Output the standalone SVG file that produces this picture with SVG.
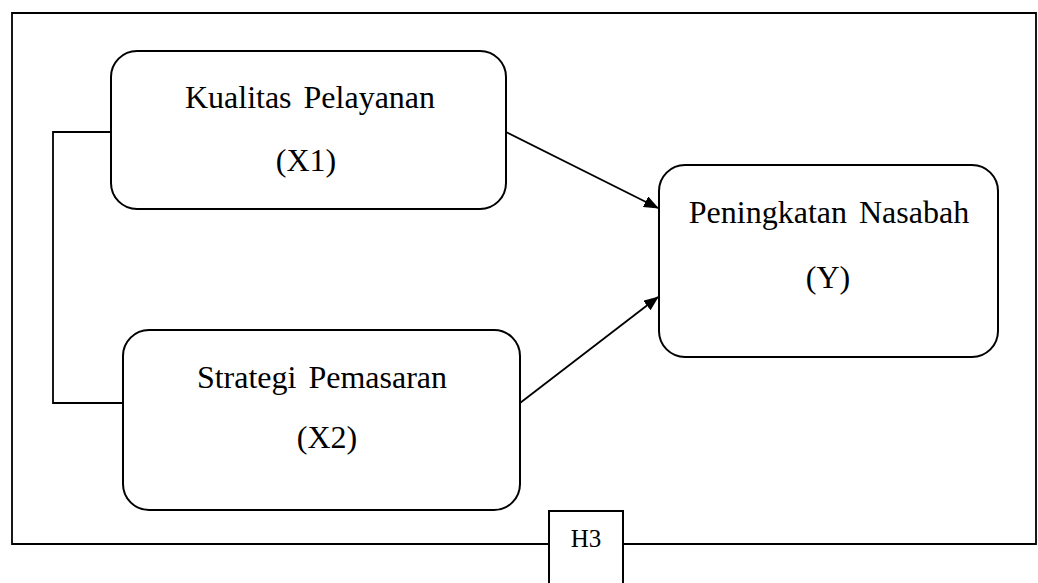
<svg xmlns="http://www.w3.org/2000/svg" width="1038" height="583" viewBox="0 0 1038 583">
<defs>
<marker id="ah" markerWidth="15" markerHeight="12" refX="14" refY="6" orient="auto" markerUnits="userSpaceOnUse">
<path d="M0,0 L15,6 L0,12 Z" fill="#000"/>
</marker>
<style>
.box{fill:#fff;stroke:#000;stroke-width:2}
.ln{fill:none;stroke:#000;stroke-width:1.8}
.t{font-family:"Liberation Serif","Times New Roman",serif;font-size:32px;word-spacing:4px;fill:#000;text-anchor:middle}
.h{font-family:"Liberation Serif","Times New Roman",serif;font-size:25px;fill:#000;text-anchor:middle}
</style>
</defs>
<rect x="0" y="0" width="1038" height="583" fill="#fff"/>
<g id="frame">
<polyline class="ln" points="549,544 12,544 12,13 1036,13 1036,544 623,544" stroke-width="2"/>
</g>
<g id="connectors">
<polyline class="ln" points="111,132 53,132 53,403 123,403"/>
<line class="ln" x1="506" y1="132" x2="658" y2="208" marker-end="url(#ah)"/>
<line class="ln" x1="520" y1="403" x2="658" y2="297" marker-end="url(#ah)"/>
</g>
<g id="x1">
<rect class="box" x="111" y="51" width="395" height="158" rx="26"/>
<text class="t" x="310" y="108">Kualitas Pelayanan</text>
<text class="t" x="306" y="171">(X1)</text>
</g>
<g id="x2">
<rect class="box" x="123" y="330" width="397" height="180" rx="26"/>
<text class="t" x="322" y="388">Strategi Pemasaran</text>
<text class="t" x="327" y="448">(X2)</text>
</g>
<g id="y">
<rect class="box" x="659" y="165" width="339" height="192" rx="26"/>
<text class="t" x="829" y="223">Peningkatan Nasabah</text>
<text class="t" x="828" y="288">(Y)</text>
</g>
<g id="h3">
<rect class="box" x="549" y="511" width="74" height="80"/>
<text class="h" x="586" y="547">H3</text>
</g>
</svg>
